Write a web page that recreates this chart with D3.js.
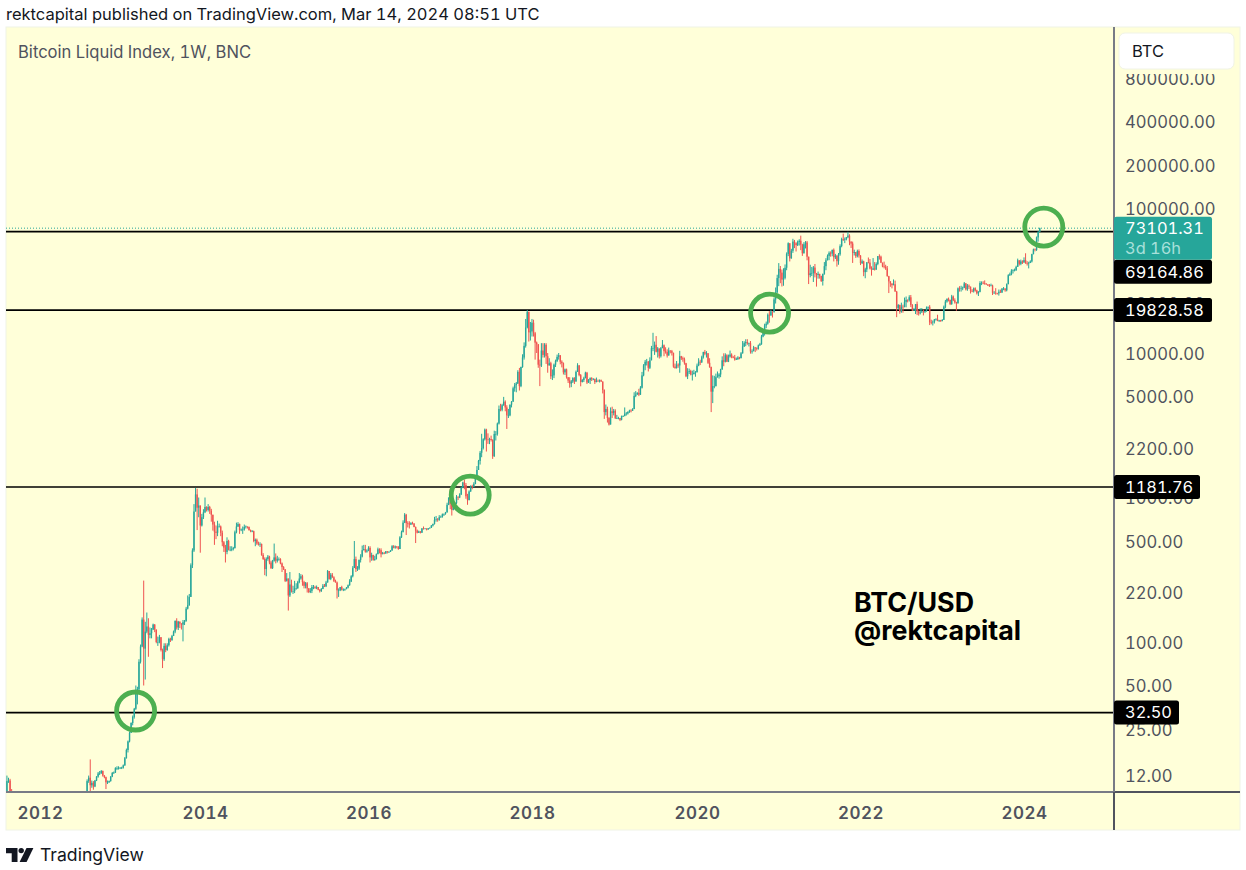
<!DOCTYPE html>
<html>
<head>
<meta charset="utf-8">
<title>Bitcoin Liquid Index, 1W, BNC</title>
<script src="https://d3js.org/d3.v7.min.js"></script>
<style>
    html, body { margin: 0; padding: 0; background: #fff; }
    svg { display: block; }
    text { font-family: Inter, "Noto Sans", sans-serif; font-variant-numeric: tabular-nums; }
</style>
</head>
<body>
<svg id="chart" width="1246" height="870"></svg>
<script>
// Weekly candles, open = previous close. Only the few bars above the pane floor in 2011.
const earlyStart = "2011-08-08";
const earlyOpen = 8.0;
const earlyCloses = [10.9, 11.0, 9.2, 8.3];
const earlyHighs = [11.9, 11.5, 11.3, 9.6];
const earlyLows = [8.0, 10.6, 9.0, 8.0];

// 13 values per line, first week 2012-07-16
const mainStart = "2012-07-16";
const mainOpen = 7.8;
const closes = [
    8.9, 8.9, 10.9, 11.5, 10.2, 10.6, 10.0, 11.0, 11.7, 12.3, 12.4, 12.8, 11.9,
    11.6, 10.7, 10.7, 10.9, 11.7, 12.4, 12.5, 13.4, 13.4, 13.4, 13.5, 13.5, 14.0,
    15.7, 17.9, 20.5, 23.5, 27.5, 30.3, 34.5, 46, 47, 73, 93, 143, 90,
    118, 128, 112, 115, 122, 132, 122, 100, 100, 108, 88, 76, 94,
    88, 95, 105, 103, 110, 118, 140, 126, 138, 134, 132, 137, 140,
    170, 180, 205, 340, 430, 800, 1050, 850, 880, 640, 730, 790, 860,
    820, 860, 810, 760, 650, 580, 570, 630, 630, 570, 490, 450, 420,
    500, 435, 435, 440, 447, 575, 630, 655, 595, 600, 600, 625, 630,
    625, 595, 585, 585, 500, 510, 480, 475, 477, 400, 375, 320, 375,
    390, 355, 325, 365, 385, 365, 375, 375, 350, 330, 318, 265, 275,
    210, 250, 225, 225, 235, 235, 260, 275, 285, 260, 245, 255, 235,
    222, 226, 240, 240, 237, 240, 230, 225, 233, 245, 243, 258, 310,
    273, 292, 280, 265, 258, 228, 228, 240, 230, 231, 232, 238, 247,
    262, 285, 325, 375, 320, 322, 370, 390, 432, 440, 422, 430, 448,
    385, 400, 370, 375, 405, 438, 432, 405, 412, 410, 425, 420, 420,
    430, 460, 450, 458, 457, 440, 530, 575, 670, 760, 665, 660, 650,
    665, 660, 625, 590, 570, 582, 570, 610, 607, 610, 600, 612, 618,
    640, 655, 700, 705, 700, 730, 735, 765, 770, 790, 890, 1000, 905,
    820, 920, 915, 1010, 1000, 1050, 1170, 1270, 1220, 1020, 960, 1100, 1200,
    1180, 1240, 1350, 1550, 1790, 2040, 2200, 2530, 2950, 2520, 2500, 2540, 2500,
    1930, 2750, 2750, 3250, 4100, 4050, 4350, 4600, 4200, 3700, 3700, 4390, 4600,
    5700, 6000, 6150, 7400, 5900, 8000, 9300, 11200, 15000, 19300, 13900, 14100, 16200,
    13700, 11800, 11500, 8300, 8200, 10400, 9700, 11400, 9500, 8200, 8500, 6900, 7000,
    8300, 8800, 9400, 9650, 8700, 8500, 7350, 7700, 6800, 6450, 6150, 6350, 6700,
    6350, 7400, 8200, 7030, 6300, 6500, 6700, 7300, 6250, 6500, 6700, 6600, 6600,
    6290, 6410, 6400, 6480, 6350, 5550, 3900, 4100, 3550, 3200, 3950, 3850, 3980,
    3530, 3550, 3550, 3450, 3650, 3660, 3800, 3810, 3910, 3990, 3970, 4090, 5050,
    5150, 5300, 5150, 5750, 7000, 8200, 8700, 8700, 7900, 8900, 10800, 10800, 11400,
    10200, 10750, 9500, 10800, 11300, 10300, 10150, 9600, 10400, 10300, 10030, 8050, 7880,
    8300, 8200, 9500, 9200, 9050, 8500, 6900, 7400, 7500, 7100, 7150, 7300, 7350,
    8180, 8700, 8600, 9350, 10150, 9900, 9950, 8550, 8000, 5400, 5900, 5900, 6800,
    6900, 7100, 7700, 8900, 8700, 9650, 8700, 9450, 9750, 9320, 9300, 9000, 9070,
    9300, 9200, 9950, 11100, 11700, 11900, 11650, 11700, 10250, 10330, 10920, 10780, 10680,
    11300, 11500, 13000, 13750, 15500, 15950, 18400, 18200, 19400, 19250, 23500, 26300, 33000,
    38200, 36000, 32200, 33100, 38900, 48500, 57500, 45200, 51000, 59000, 57500, 55800, 58700,
    59800, 56200, 49000, 56600, 58200, 46400, 34600, 35600, 35800, 39000, 35500, 34700, 35300,
    34200, 31500, 35300, 39900, 43800, 47000, 49300, 48800, 51750, 46000, 47300, 43200, 48200,
    54900, 61500, 60800, 61300, 63200, 64900, 59000, 57200, 49300, 50000, 46800, 50800, 47300,
    41900, 43100, 36300, 37900, 42400, 42200, 38400, 37700, 38500, 37800, 41300, 46800, 46400,
    42200, 39700, 39500, 38500, 34000, 31300, 30300, 29500, 29900, 26600, 20500, 21500, 19300,
    20900, 20800, 22600, 23300, 23200, 24300, 21500, 19600, 20000, 21800, 19400, 18800, 19050,
    19400, 19250, 19500, 20600, 20900, 16300, 16280, 16450, 17100, 17100, 16750, 16840, 16600,
    16950, 20900, 22700, 23750, 23300, 21800, 24600, 23150, 22400, 22150, 28000, 27950, 28200,
    28300, 30300, 27600, 29200, 28800, 26900, 26750, 28050, 27100, 25900, 26500, 30500, 30600,
    30300, 30250, 29800, 29300, 29050, 29300, 26100, 26100, 25900, 25850, 26550, 26250, 27950,
    27950, 27150, 29950, 34550, 35050, 37100, 37400, 37450, 39450, 43800, 41400, 43000, 42250,
    43950, 41700, 41600, 42000, 43000, 48300, 52100, 51700, 63100, 68900, 73101.31
];
const highs = [
    9.0, 9.3, 11.2, 11.9, 15.4, 11.0, 10.9, 11.1, 11.8, 12.6, 12.8, 13.0, 12.9,
    12.0, 11.7, 11.0, 11.0, 11.8, 12.6, 12.7, 13.6, 13.8, 13.8, 13.6, 13.7, 14.2,
    16.0, 18.3, 20.8, 24, 27.8, 31, 35, 50, 49, 76, 96, 148, 266,
    138, 160, 146, 126, 125, 134, 133, 122, 109, 112, 108, 90, 98,
    98, 98, 107, 107, 112, 120, 141, 146, 140, 139, 135, 142, 142,
    175, 210, 215, 350, 445, 900, 1165, 1150, 1000, 880, 770, 830, 1000,
    870, 900, 875, 835, 750, 680, 640, 690, 660, 640, 590, 500, 470,
    530, 510, 460, 460, 455, 590, 670, 675, 660, 610, 630, 650, 640,
    630, 630, 600, 595, 590, 520, 520, 495, 490, 480, 412, 385, 385,
    400, 395, 365, 370, 480, 410, 395, 385, 380, 355, 335, 320, 300,
    275, 305, 270, 245, 265, 255, 265, 300, 295, 292, 265, 260, 260,
    236, 236, 248, 248, 245, 246, 240, 232, 236, 252, 252, 265, 315,
    310, 300, 300, 285, 270, 262, 235, 240, 245, 235, 234, 240, 250,
    272, 290, 335, 500, 390, 335, 372, 405, 465, 470, 470, 438, 460,
    460, 415, 402, 395, 410, 450, 445, 445, 420, 420, 425, 425, 425,
    432, 468, 468, 465, 460, 460, 540, 590, 695, 780, 770, 685, 685,
    675, 680, 665, 630, 600, 590, 585, 615, 630, 612, 612, 615, 620,
    645, 660, 735, 745, 720, 755, 750, 775, 775, 795, 920, 1000, 1150,
    920, 940, 925, 1040, 1020, 1070, 1190, 1285, 1330, 1260, 1060, 1120, 1215,
    1225, 1275, 1370, 1650, 1820, 2100, 2760, 2570, 3000, 2990, 2780, 2590, 2680,
    2530, 2900, 2880, 3300, 4330, 4450, 4450, 4970, 4700, 4350, 4100, 4400, 4650,
    5850, 6200, 6300, 7600, 7880, 8050, 9800, 11850, 17200, 19828, 19000, 16400, 17200,
    17000, 14000, 12000, 11500, 9000, 11700, 11700, 11700, 11700, 10000, 9200, 8700, 7700,
    8450, 9000, 9750, 10000, 9650, 8900, 8600, 7800, 7800, 6800, 6800, 6500, 6800,
    6800, 7560, 8500, 8250, 7150, 6600, 6850, 7420, 7400, 6600, 6780, 6800, 6700,
    6650, 6760, 6550, 6560, 6550, 6350, 5600, 4400, 4250, 3600, 4200, 4250, 4100,
    4080, 3730, 3620, 3540, 3690, 3700, 4200, 3900, 3950, 4050, 4080, 4150, 5350,
    5450, 5350, 5650, 5900, 7400, 8380, 8950, 9100, 8800, 9330, 11200, 13800, 12000,
    13100, 11000, 10650, 11000, 12300, 11450, 10950, 10600, 10900, 10440, 10500, 10050, 8450,
    8800, 8480, 10350, 9550, 9450, 9300, 8550, 7850, 7800, 7650, 7550, 7650, 7500,
    8450, 9200, 8980, 9580, 10200, 10500, 10300, 10000, 9200, 8050, 7000, 6950, 7200,
    7450, 7250, 7780, 9480, 9950, 9950, 9800, 9750, 10400, 9950, 9550, 9700, 9300,
    9500, 9400, 10150, 12100, 12050, 12450, 12450, 11800, 12100, 10600, 11200, 10990, 10950,
    11450, 11750, 13350, 14100, 15950, 16500, 18800, 19500, 19900, 19400, 24250, 28400, 34800,
    41900, 40000, 37800, 38600, 41000, 49700, 58300, 57500, 52600, 61700, 60600, 58400, 60000,
    61300, 64900, 57000, 58500, 59500, 59600, 46000, 40800, 39400, 40000, 41300, 35800, 36600,
    35100, 34000, 35400, 42600, 45300, 48100, 50500, 50500, 51900, 52900, 48500, 45000, 49200,
    56500, 62800, 67000, 63000, 63500, 69000, 66300, 59300, 59000, 51900, 49500, 51900, 52100,
    47500, 44400, 43500, 38900, 42600, 45800, 44700, 39800, 45400, 42600, 42400, 46900, 48200,
    47200, 41400, 42900, 40800, 40000, 34200, 31400, 30200, 32300, 31700, 26900, 21800, 21600,
    22300, 21600, 24200, 24600, 23500, 25100, 25200, 21800, 20500, 21800, 22700, 19700, 20400,
    20450, 19950, 19700, 21000, 20800, 21450, 17000, 16800, 17200, 17400, 18400, 16950, 16950,
    17150, 21300, 23300, 23800, 24200, 23400, 25250, 25000, 23900, 22600, 28400, 29000, 29200,
    28800, 31000, 30500, 30000, 29800, 28300, 27650, 28400, 28450, 27400, 26800, 31400, 31300,
    31400, 31800, 30350, 29950, 30000, 30200, 29700, 26800, 28100, 26100, 27500, 27450, 28050,
    28600, 28000, 30300, 35100, 36000, 38000, 37950, 38400, 40200, 45000, 43500, 44300, 43800,
    45900, 49000, 43200, 42800, 43800, 48600, 52800, 52900, 64000, 70000, 73650
];
const lows = [
    8.3, 8.2, 8.8, 10.6, 8.9, 9.8, 9.5, 9.9, 10.9, 11.5, 12.0, 12.2, 11.7,
    11.4, 9.6, 10.4, 10.6, 10.8, 11.6, 12.2, 12.4, 13.0, 13.1, 13.2, 13.2, 13.3,
    13.9, 15.6, 17.2, 20.2, 23.5, 26.5, 29.5, 33.9, 37, 46, 71, 92, 50,
    55, 115, 79, 106, 106, 121, 117, 98, 94, 98, 86, 66, 74,
    85, 87, 93, 100, 102, 110, 115, 122, 121, 125, 122, 101, 131,
    138, 168, 178, 205, 325, 420, 800, 595, 730, 415, 630, 710, 780,
    800, 800, 770, 680, 590, 470, 515, 540, 620, 540, 460, 420, 355,
    405, 430, 425, 425, 430, 443, 565, 625, 560, 585, 560, 590, 610,
    610, 590, 575, 575, 490, 460, 470, 465, 455, 395, 370, 290, 285,
    365, 345, 320, 320, 360, 350, 355, 365, 345, 305, 315, 260, 262,
    165, 205, 220, 215, 218, 230, 234, 255, 270, 245, 235, 235, 220,
    218, 218, 218, 232, 233, 232, 228, 220, 222, 232, 240, 240, 258,
    270, 268, 278, 260, 258, 200, 205, 225, 227, 225, 226, 235, 235,
    245, 260, 280, 325, 305, 310, 315, 355, 385, 430, 415, 415, 425,
    355, 365, 365, 365, 372, 405, 410, 385, 405, 405, 408, 410, 415,
    420, 428, 445, 442, 445, 435, 440, 525, 575, 665, 550, 620, 610,
    645, 650, 622, 484, 565, 568, 564, 570, 600, 604, 592, 600, 608,
    615, 630, 650, 680, 680, 690, 725, 725, 745, 760, 785, 885, 830,
    750, 815, 885, 900, 960, 990, 1040, 1160, 1140, 980, 890, 955, 1095,
    1140, 1180, 1235, 1345, 1560, 1690, 1900, 2150, 2480, 2080, 2350, 2340, 2440,
    1850, 1910, 2480, 2680, 3200, 3950, 3950, 4310, 3950, 2980, 3550, 3650, 4200,
    4600, 5400, 5350, 6100, 5500, 5800, 7900, 9000, 10900, 14800, 12000, 12200, 13000,
    13000, 9000, 10000, 7900, 5900, 8000, 9300, 9300, 8400, 7300, 8200, 6600, 6500,
    6700, 8000, 8650, 9000, 8350, 7950, 7100, 7050, 6650, 6200, 5750, 5800, 6200,
    6100, 6330, 7400, 6900, 5880, 6250, 6300, 6680, 6100, 6200, 6100, 6400, 6480,
    6100, 6270, 6340, 6250, 6300, 5250, 3500, 3700, 3300, 3150, 3200, 3550, 3700,
    3500, 3490, 3480, 3380, 3420, 3610, 3650, 3690, 3750, 3850, 3880, 3970, 4090,
    4950, 5170, 5030, 5130, 5680, 6900, 7600, 8200, 7450, 7750, 8900, 10300, 9700,
    10100, 9300, 9150, 9300, 10950, 9500, 9900, 9300, 9650, 9950, 9600, 7900, 7780,
    7800, 7900, 7300, 8950, 8700, 8300, 6800, 6600, 7150, 7000, 6450, 7100, 6850,
    7700, 8100, 8250, 8550, 9150, 9650, 9300, 8400, 7900, 3900, 4500, 5700, 5870,
    6750, 6650, 6800, 7650, 8100, 8600, 8650, 8650, 9300, 9200, 9200, 8850, 8950,
    8950, 9050, 9200, 9900, 11000, 11150, 11400, 11100, 9900, 9900, 10250, 10150, 10400,
    10550, 11200, 11400, 12850, 13200, 14850, 15700, 16200, 18100, 17600, 19000, 22000, 26000,
    29000, 30400, 28850, 29200, 32300, 37400, 46800, 43000, 44950, 49300, 53200, 50400, 55000,
    55400, 51500, 47000, 48800, 52900, 43800, 30000, 33400, 34100, 31000, 33350, 28800, 32700,
    32700, 31000, 29300, 34800, 37400, 43800, 43900, 46400, 46700, 43000, 44700, 39600, 40800,
    47100, 53900, 59600, 57600, 60200, 62300, 55700, 53300, 42000, 47300, 45500, 45900, 45700,
    40600, 41300, 34000, 32900, 36300, 41700, 37900, 34300, 37600, 37200, 37600, 40500, 44300,
    41900, 39200, 38500, 37600, 33800, 26000, 28700, 28000, 29400, 26600, 17700, 20000, 18700,
    19000, 19000, 20700, 20700, 22400, 22700, 20800, 19600, 19550, 18600, 18300, 18150, 18500,
    19300, 18200, 18900, 19300, 20050, 15600, 15800, 15500, 16000, 16750, 16600, 16400, 16450,
    16650, 17000, 20400, 22300, 22750, 21450, 21550, 22850, 21950, 19600, 21900, 26600, 26600,
    27200, 28100, 27100, 26950, 27700, 25800, 26350, 26200, 26600, 25400, 24800, 26300, 29500,
    29900, 29700, 29700, 29100, 28650, 29000, 25200, 25700, 25300, 25400, 24950, 26050, 26000,
    27200, 26550, 26700, 29900, 34100, 34500, 35500, 36700, 37000, 39500, 40300, 40500, 41300,
    42200, 41500, 40300, 38500, 41900, 42300, 48200, 50500, 50900, 59000, 68500
];

const lastPrice = 73101.31;
const levels = [69164.86, 19828.58, 1181.76, 32.5];
const priceTicks = [800000, 400000, 200000, 100000, 50000, 22000, 10000, 5000, 2200, 1000, 500, 220, 100, 50, 25, 12];
const yearTicks = ["2012-01-02", "2014-01-06", "2016-01-04", "2018-01-01", "2020-01-06", "2022-01-03", "2024-01-01"];
const circleDates = ["2013-03-03", "2017-04-01", "2020-11-24", "2024-03-29"];
const circlePrices = [33.3, 1040, 18880, 74400];

const parseDay = d3.utcParse("%Y-%m-%d");

// pane box
const pane = { left: 6, right: 1114, top: 27, floor: 792, bottom: 830, outer: 1240 };
const svg = d3.select("#chart");

svg.append("rect")
    .attr("x", pane.left).attr("y", pane.top)
    .attr("width", pane.outer - pane.left).attr("height", pane.bottom - pane.top)
    .attr("fill", "#ffffd9").attr("stroke", "#f0f3e6");

// x runs on calendar dates (1.572px per week), y is a log price scale
const x = d3.scaleUtc()
    .domain([parseDay("2014-01-06"), parseDay("2024-01-01")])
    .range([205, 1024]);
const y = d3.scaleLog()
    .domain([100, 100000])
    .range([642, 208.5]);

function makeBars(start, open, cs, hs, ls) {
    let prev = open;
    return cs.map((c, i) => {
        const bar = {
            date: d3.utcWeek.offset(parseDay(start), i),
            open: prev,
            close: c,
            high: Math.max(hs[i], prev, c),
            low: Math.min(ls[i], prev, c)
        };
        prev = c;
        return bar;
    });
}
const bars = makeBars(earlyStart, earlyOpen, earlyCloses, earlyHighs, earlyLows)
    .concat(makeBars(mainStart, mainOpen, closes, highs, lows));

svg.append("clipPath").attr("id", "paneClip")
    .append("rect")
    .attr("x", pane.left).attr("y", pane.top)
    .attr("width", pane.right - pane.left).attr("height", pane.floor - pane.top);

const plot = svg.append("g").attr("clip-path", "url(#paneClip)");

// Last price dotted line
plot.append("line")
    .attr("x1", pane.left).attr("x2", pane.right)
    .attr("y1", y(lastPrice)).attr("y2", y(lastPrice))
    .attr("stroke", "#26a69a").attr("stroke-width", 1).attr("stroke-dasharray", "1,2");

// Support / resistance lines
plot.selectAll(".level")
    .data(levels)
    .join("line")
    .attr("class", "level")
    .attr("x1", pane.left).attr("x2", pane.right)
    .attr("y1", d => y(d)).attr("y2", d => y(d))
    .attr("stroke", "#000").attr("stroke-width", 1.7);

const barColor = d => d.close >= d.open ? "#26a69a" : "#ef5350";

plot.selectAll(".wick")
    .data(bars)
    .join("line")
    .attr("class", "wick")
    .attr("x1", d => x(d.date)).attr("x2", d => x(d.date))
    .attr("y1", d => y(d.high)).attr("y2", d => y(d.low))
    .attr("stroke", barColor).attr("stroke-width", 1);

plot.selectAll(".body")
    .data(bars)
    .join("rect")
    .attr("class", "body")
    .attr("x", d => x(d.date) - 0.7)
    .attr("width", 1.4)
    .attr("y", d => y(Math.max(d.open, d.close)))
    .attr("height", d => Math.max(0.6, Math.abs(y(d.open) - y(d.close))))
    .attr("fill", barColor);

// Green circles
svg.selectAll(".marker")
    .data(circleDates)
    .join("circle")
    .attr("class", "marker")
    .attr("cx", d => x(parseDay(d)))
    .attr("cy", (d, i) => y(circlePrices[i]))
    .attr("r", 19)
    .attr("fill", "none")
    .attr("stroke", "#4caf50")
    .attr("stroke-width", 4.8);

// Axes
const xAxis = d3.axisBottom(x)
    .tickValues(yearTicks.map(parseDay))
    .tickFormat(d3.utcFormat("%Y"))
    .tickSize(0)
    .tickPadding(15);
const xAxisG = svg.append("g")
    .attr("transform", `translate(0,${pane.floor})`)
    .call(xAxis);
xAxisG.select(".domain").remove();
xAxisG.selectAll("text")
    .attr("fill", "#50535e")
    .style("font-size", "17px")
    .style("font-weight", 600)
    .style("letter-spacing", "0.5px");

const yAxis = d3.axisRight(y)
    .tickValues(priceTicks)
    .tickFormat(d3.format(".2f"))
    .tickSize(0)
    .tickPadding(11);
const yAxisG = svg.append("g")
    .attr("transform", `translate(${pane.right},0.7)`)
    .call(yAxis);
yAxisG.select(".domain").remove();
yAxisG.selectAll("text")
    .attr("fill", "#50535e")
    .style("font-size", "16.6px");

// Pane frame lines
const frame = svg.append("g");
frame.append("line")
    .attr("x1", pane.left).attr("x2", pane.right)
    .attr("y1", pane.floor).attr("y2", pane.floor)
    .attr("stroke", "#787b86").attr("stroke-width", 2);
frame.append("line")
    .attr("x1", pane.right).attr("x2", pane.outer)
    .attr("y1", pane.floor).attr("y2", pane.floor)
    .attr("stroke", "#50535e").attr("stroke-width", 2);
frame.append("line")
    .attr("x1", pane.right).attr("x2", pane.right)
    .attr("y1", pane.top).attr("y2", pane.floor)
    .attr("stroke", "#787b86").attr("stroke-width", 2);
frame.append("line")
    .attr("x1", pane.right).attr("x2", pane.right)
    .attr("y1", pane.floor).attr("y2", pane.bottom)
    .attr("stroke", "#50535e").attr("stroke-width", 2);

// Last price tag block goes 11.5 above its price and 31.5 below
const lastTagTop = y(lastPrice) - 11.5;
const lastTagHeight = 43;

// Price tags sit on top of the tick labels, the top one is pushed under the last price tag
const tagRight = { 69164.86: 1212, 19828.58: 1212, 1181.76: 1200, 32.5: 1179 };
const tagY = d => d === levels[0] ? lastTagTop + lastTagHeight + 12 : y(d);
const tags = svg.selectAll(".tag")
    .data(levels)
    .join("g")
    .attr("class", "tag")
    .attr("transform", d => `translate(${pane.right},${tagY(d)})`);
tags.append("rect")
    .attr("y", -12).attr("height", 24)
    .attr("width", d => tagRight[d] - pane.right)
    .attr("rx", 2.5)
    .attr("fill", "#000");
tags.append("text")
    .attr("x", 11).attr("dy", "0.36em")
    .attr("fill", "#fff")
    .style("font-size", "16.4px")
    .text(d => d3.format(".2f")(d));

const lastTag = svg.append("g")
    .attr("transform", `translate(${pane.right},${lastTagTop})`);
lastTag.append("rect")
    .attr("width", 98).attr("height", lastTagHeight)
    .attr("rx", 2.5)
    .attr("fill", "#26a69a");
lastTag.append("text")
    .attr("x", 11).attr("y", 11.5).attr("dy", "0.36em")
    .attr("fill", "#fff")
    .style("font-size", "16.4px")
    .text(d3.format(".2f")(lastPrice));
lastTag.append("text")
    .attr("x", 11).attr("y", 31.5).attr("dy", "0.36em")
    .attr("fill", "#a8e0da")
    .style("font-size", "16.4px")
    .text("3d 16h");

// Symbol box in the top right corner, it cuts the 800000 label
svg.append("rect")
    .attr("x", pane.right + 1).attr("y", pane.top + 1)
    .attr("width", pane.outer - pane.right - 2).attr("height", 46)
    .attr("fill", "#ffffd9");
svg.append("rect")
    .attr("x", 1119).attr("y", 33).attr("width", 115).attr("height", 36)
    .attr("rx", 6)
    .attr("fill", "#fff").attr("stroke", "#f0f3e6");
svg.append("text")
    .attr("x", 1132).attr("y", 57)
    .attr("fill", "#131722")
    .style("font-size", "16.5px")
    .text("BTC");

// Header, legend and watermark
svg.append("text")
    .attr("x", 6).attr("y", 20)
    .attr("fill", "#131722")
    .style("font-size", "16.5px")
    .text("rektcapital published on TradingView.com, Mar 14, 2024 08:51 UTC");
svg.append("text")
    .attr("x", 18).attr("y", 58)
    .attr("fill", "#50535e")
    .style("font-size", "16.6px")
    .text("Bitcoin Liquid Index, 1W, BNC");

svg.append("text")
    .attr("x", 854).attr("y", 612)
    .attr("fill", "#000")
    .style("font-size", "26.8px")
    .style("font-weight", 700)
    .text("BTC/USD");
svg.append("text")
    .attr("x", 854).attr("y", 640)
    .attr("fill", "#000")
    .style("font-size", "26.8px")
    .style("font-weight", 700)
    .text("@rektcapital");

// TradingView mark at the bottom left
const logo = svg.append("g").attr("fill", "#131722");
logo.append("path").attr("d", "M6 848H17.5V862H11.7V853.2H6Z");
logo.append("circle").attr("cx", 21.2).attr("cy", 850.6).attr("r", 2.7);
logo.append("path").attr("d", "M26.5 848H33.4L26.6 862H19.6Z");
svg.append("text")
    .attr("x", 40).attr("y", 861)
    .attr("fill", "#131722")
    .style("font-size", "17.6px")
    .text("TradingView");
</script>
</body>
</html>
